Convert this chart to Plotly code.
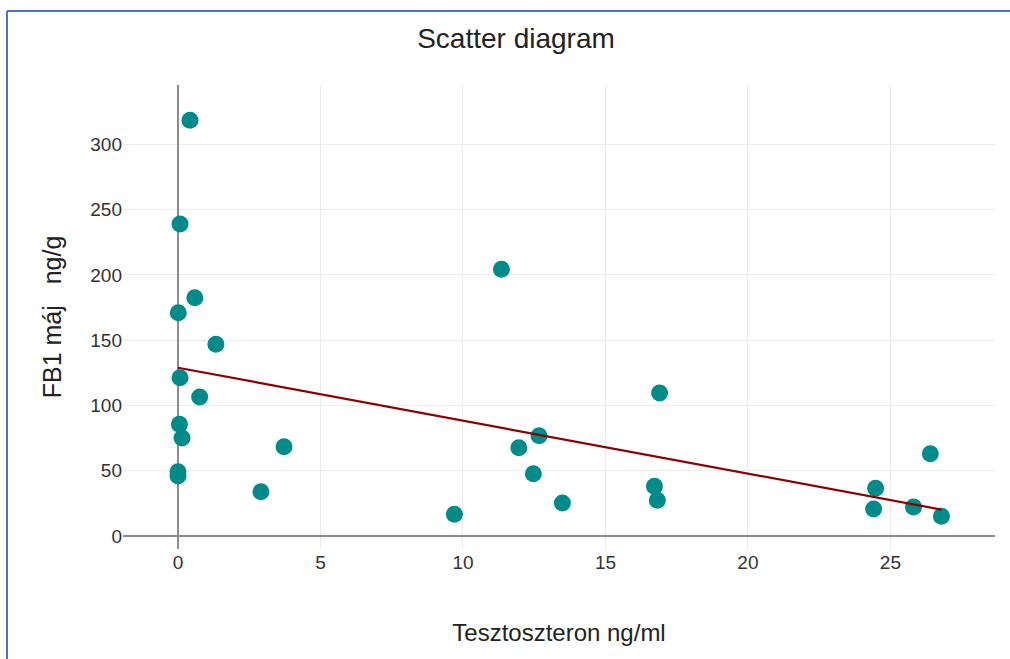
import plotly.graph_objects as go

# Data
testosterone = [0.42, 0.07, 0.59, 0.01, 1.33, 0.07, 0.76, 0.05, 0.14, 0.0, 0.0,
                3.72, 2.91, 11.35, 16.9, 12.67, 11.96, 12.47, 9.70, 13.49,
                16.72, 16.82, 26.4, 24.48, 24.41, 25.81, 26.79]
fb1_liver = [318.5, 239, 182.5, 171, 146.8, 121.2, 106.4, 85.5, 75, 49.2, 46,
             68.4, 33.9, 204.4, 109.5, 76.8, 67.6, 47.7, 16.6, 25.3,
             38, 27.3, 63, 36.5, 20.7, 22.2, 15.1]

trend_x = [0.0, 26.79]
trend_y = [128.9, 20.2]

fig = go.Figure()
fig.add_trace(go.Scatter(
    x=testosterone, y=fb1_liver, mode="markers",
    marker=dict(color="#008b8b", size=17, line=dict(width=0)),
    showlegend=False, hoverinfo="x+y"))
fig.add_trace(go.Scatter(
    x=trend_x, y=trend_y, mode="lines",
    line=dict(color="#8b0000", width=2.2),
    showlegend=False))

W, H = 1010, 659
ml, mr, mt, mb = 123, 15, 85, 110
pw, ph = W - ml - mr, H - mt - mb

def px(xp):
    return (xp - ml) / pw

def py(yp):
    return (H - mb - yp) / ph

border_color = "#4a74c9"
fig.add_shape(type="line", xref="paper", yref="paper",
              x0=px(7), x1=px(1010), y0=py(11), y1=py(11),
              line=dict(color=border_color, width=2), layer="above")
fig.add_shape(type="line", xref="paper", yref="paper",
              x0=px(7), x1=px(7), y0=py(11), y1=py(659),
              line=dict(color=border_color, width=2), layer="above")

fig.update_layout(
    width=W, height=H,
    margin=dict(l=ml, r=mr, t=mt, b=mb),
    paper_bgcolor="white", plot_bgcolor="white",
    font=dict(family="Liberation Sans, Arial, sans-serif", color="#333"),
    title=dict(text="Scatter diagram", x=516 / W, xref="container", xanchor="center",
               y=1 - 38 / H, yref="container", yanchor="middle",
               font=dict(size=28, color="#222")),
    xaxis=dict(range=[-1.93, 28.67], tickvals=[0, 5, 10, 15, 20, 25],
               showgrid=True, gridcolor="#ececec", gridwidth=1,
               zeroline=True, zerolinecolor="#8c8c8c", zerolinewidth=2,
               showline=False, ticks="",
               tickfont=dict(size=19, color="#333"),
               title=dict(text="Tesztoszteron ng/ml", standoff=52,
                          font=dict(size=24, color="#222"))),
    yaxis=dict(range=[-10, 345.5], tickvals=[0, 50, 100, 150, 200, 250, 300],
               showgrid=True, gridcolor="#ececec", gridwidth=1,
               zeroline=True, zerolinecolor="#8c8c8c", zerolinewidth=2,
               showline=False, ticks="",
               tickfont=dict(size=19, color="#333"),
               title=dict(text="FB1 máj\u00a0\u00a0 ng/g", standoff=21,
                          font=dict(size=25, color="#222"))),
)

fig.write_html("out.html")
